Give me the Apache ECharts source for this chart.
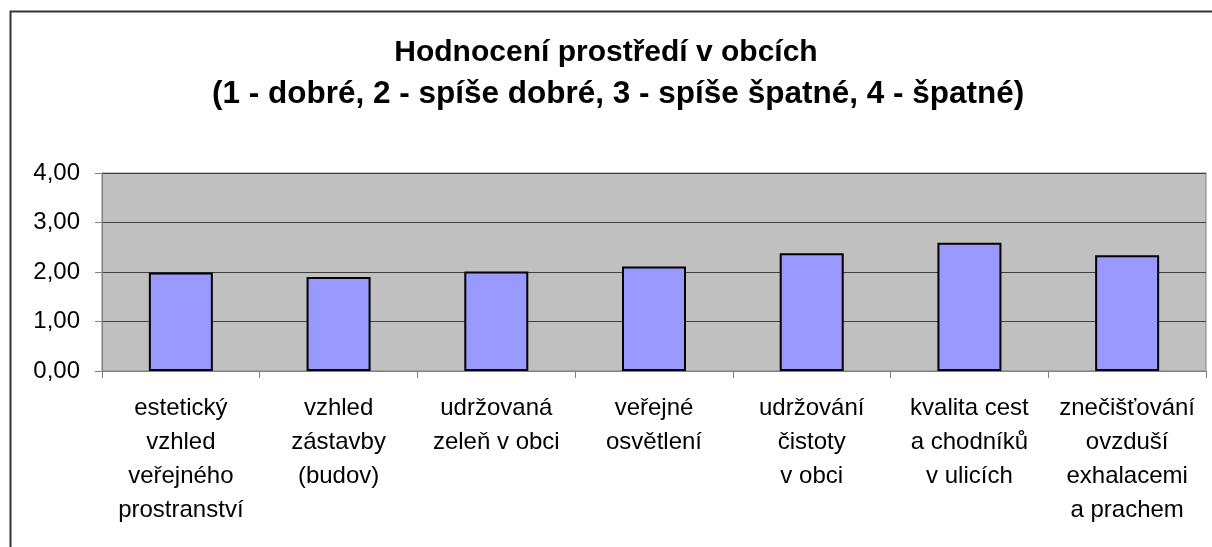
<!DOCTYPE html>
<html>
<head>
<meta charset="utf-8">
<style>
  html, body { margin: 0; padding: 0; background: #fff; }
  #chart { width: 1212px; height: 547px; }
</style>
<script src="https://cdn.jsdelivr.net/npm/echarts@6/dist/echarts.min.js"></script>
</head>
<body>
<div id="chart"></div>
<script>
/* ---------- data ---------- */
const categories = [
  "estetický\nvzhled\nveřejného\nprostranství",
  "vzhled\nzástavby\n(budov)",
  "udržovaná\nzeleň v obci",
  "veřejné\nosvětlení",
  "udržování\nčistoty\nv obci",
  "kvalita cest\na chodníků\nv ulicích",
  "znečišťování\novzduší\nexhalacemi\na prachem",
];
const scores = [1.99, 1.90, 2.01, 2.11, 2.38, 2.59, 2.34];
const titleText = "Hodnocení prostředí v obcích";
const subtitleText = "(1 - dobré, 2 - spíše dobré, 3 - spíše špatné, 4 - špatné)";

/* ---------- chart ---------- */
const FONT = "'Liberation Sans', Arial, sans-serif";
const chart = echarts.init(document.getElementById("chart"), null, { renderer: "canvas" });

chart.setOption({
  animation: false,
  backgroundColor: "#fff",
  title: [
    {
      text: titleText,
      left: "center",
      top: 30,
      textStyle: { fontFamily: FONT, fontSize: 30, fontWeight: "bold", color: "#000", lineHeight: 36 },
    },
    {
      text: subtitleText,
      left: 207,
      top: 71,
      textStyle: { fontFamily: FONT, fontSize: 31.5, fontWeight: "bold", color: "#000", lineHeight: 36 },
    },
  ],
  // outer chart frame (cropped on right/bottom like the source)
  graphic: [
    {
      type: "rect",
      left: 8, top: 9,
      shape: { width: 1300, height: 700 },
      style: { fill: "none", stroke: "#333", lineWidth: 2 },
      silent: true,
    },
  ],
  grid: {
    left: 102, right: 6, top: 173, bottom: 176,
    show: true,
    backgroundColor: "#c0c0c0",
    borderColor: "#808080",
    borderWidth: 1,
  },
  xAxis: {
    type: "category",
    data: categories,
    axisLine: { lineStyle: { color: "#808080", width: 1 } },
    axisTick: { show: true, length: 7, lineStyle: { color: "#808080" } },
    axisLabel: {
      interval: 0,
      margin: 20,
      fontFamily: FONT,
      fontSize: 24,
      lineHeight: 34,
      color: "#000",
      verticalAlign: "top",
    },
  },
  yAxis: {
    type: "value",
    min: 0, max: 4, interval: 1,
    axisLine: { show: true, lineStyle: { color: "#808080" } },
    axisTick: { show: true, length: 7, lineStyle: { color: "#808080" } },
    splitLine: { lineStyle: { color: "#404040", width: 1 } },
    axisLabel: {
      margin: 22,
      fontFamily: FONT,
      fontSize: 24,
      color: "#000",
      formatter: (v) => v.toFixed(2).replace(".", ","),
    },
  },
  series: [
    {
      type: "bar",
      data: scores,
      barWidth: 64,
      itemStyle: { color: "#9999ff", borderColor: "#000", borderWidth: 2 },
    },
  ],
});
</script>
</body>
</html>
